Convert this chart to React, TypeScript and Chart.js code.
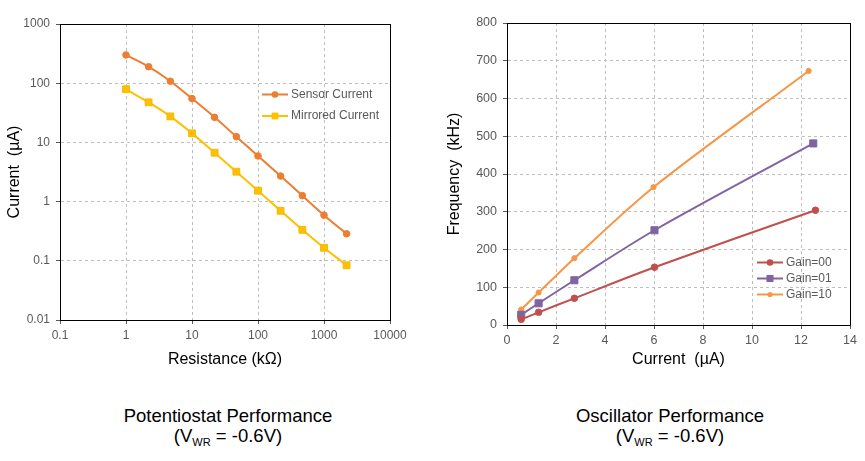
import React, { useEffect, useRef } from 'react';
import { Chart, registerables } from 'chart.js';

Chart.register(...registerables);

// ---------- Data: Potentiostat ----------
const resistance = [1, 2.2, 4.7, 10, 22, 47, 100, 220, 470, 1000, 2200];
const sensorCurrent = [300, 190, 108, 55, 26.5, 12.5, 5.9, 2.7, 1.26, 0.59, 0.286];
const mirroredCurrent = [79, 47.5, 27.5, 14.2, 6.7, 3.2, 1.53, 0.7, 0.334, 0.166, 0.084];
const leftXTickValues = [0.1, 1, 10, 100, 1000, 10000];
const leftXTickLabels = ['0.1', '1', '10', '100', '1000', '10000'];
const leftYTickValues = [0.01, 0.1, 1, 10, 100, 1000];
const leftYTickLabels = ['0.01', '0.1', '1', '10', '100', '1000'];

// ---------- Data: Oscillator ----------
const gain00X = [0.58, 1.29, 2.75, 6.02, 12.59];
const gain00Y = [15, 33.6, 70.7, 153, 304];
const gain01X = [0.58, 1.29, 2.75, 6.02, 12.5];
const gain01Y = [27, 57.5, 118.5, 251, 481];
const gain10X = [0.58, 1.29, 2.75, 5.98, 12.31];
const gain10Y = [41, 86, 177, 365, 673];
const rightXTickValues = [0, 2, 4, 6, 8, 10, 12, 14];
const rightXTickLabels = ['0', '2', '4', '6', '8', '10', '12', '14'];
const rightYTickValues = [0, 100, 200, 300, 400, 500, 600, 700, 800];
const rightYTickLabels = ['0', '100', '200', '300', '400', '500', '600', '700', '800'];

const FONT = "'Liberation Sans', Arial, sans-serif";

const framePlugin = {
  id: 'frame',
  afterDraw(chart: any) {
    const { ctx, chartArea: a } = chart;
    ctx.save();
    ctx.strokeStyle = '#000';
    ctx.lineWidth = 1;
    ctx.strokeRect(Math.round(a.left) + 0.5, Math.round(a.top) + 0.5, Math.round(a.right - a.left), Math.round(a.bottom - a.top));
    ctx.restore();
  },
};

const legendPlugin = {
  id: 'insideLegend',
  afterDraw(chart: any, _args: any, opts: any) {
    const { ctx } = chart;
    chart.data.datasets.forEach((ds: any, i: number) => {
      const y = opts.y + i * opts.spacing;
      const x0 = opts.x;
      const x1 = opts.x + opts.lineLen;
      ctx.save();
      ctx.strokeStyle = ds.borderColor;
      ctx.lineWidth = ds.borderWidth;
      ctx.beginPath();
      ctx.moveTo(x0, y);
      ctx.lineTo(x1, y);
      ctx.stroke();
      const cx = (x0 + x1) / 2;
      const r = ds.pointRadius;
      ctx.fillStyle = ds.pointBackgroundColor;
      if (ds.pointStyle === 'rect') {
        const s = Math.SQRT1_2 * r;
        ctx.fillRect(cx - s, y - s, 2 * s, 2 * s);
      } else {
        ctx.beginPath();
        ctx.arc(cx, y, r, 0, Math.PI * 2);
        ctx.fill();
      }
      ctx.fillStyle = '#595959';
      ctx.font = `12px ${FONT}`;
      ctx.textBaseline = 'middle';
      ctx.textAlign = 'left';
      ctx.fillText(ds.label, x1 + 3, y);
      ctx.restore();
    });
  },
};

function makeAxis(opts: {
  type: 'linear' | 'logarithmic';
  min: number;
  max: number;
  values: number[];
  labels: string[];
  horizontal: boolean;
  size: number;
  title: string;
  titlePadding: any;
  fontSize: number;
}) {
  return {
    type: opts.type,
    min: opts.min,
    max: opts.max,
    afterBuildTicks: (s: any) => {
      s.ticks = opts.values.map((v) => ({ value: v }));
    },
    afterFit: (s: any) => {
      if (opts.horizontal) s.height = opts.size;
      else s.width = opts.size;
      s.paddingLeft = 0;
      s.paddingRight = 0;
      s.paddingTop = 0;
      s.paddingBottom = 0;
    },
    ticks: {
      callback: (_v: any, i: number) => opts.labels[i],
      autoSkip: false,
      maxRotation: 0,
      minRotation: 0,
      padding: opts.horizontal ? 4 : 6,
      color: '#595959',
      font: { family: FONT, size: opts.fontSize },
    },
    grid: { color: '#BFBFBF', tickColor: '#595959', tickLength: 4, lineWidth: 1 },
    border: { color: '#000', width: 1, dash: [3, 3] },
    title: {
      display: true,
      text: opts.title,
      color: '#000',
      font: { family: FONT, size: 16 },
      padding: opts.titlePadding,
    },
  };
}

function LeftChart() {
  const ref = useRef<HTMLCanvasElement>(null);
  useEffect(() => {
    if (!ref.current) return;
    const chart = new Chart(ref.current, {
      type: 'line',
      data: {
        datasets: [
          {
            label: 'Sensor Current',
            data: resistance.map((x, i) => ({ x, y: sensorCurrent[i] })),
            borderColor: '#ED7D31',
            backgroundColor: '#ED7D31',
            borderWidth: 2,
            pointStyle: 'circle',
            pointRadius: 3.3,
            pointBackgroundColor: '#ED7D31',
            pointBorderColor: '#ED7D31',
            pointBorderWidth: 1,
            tension: 0.4,
          },
          {
            label: 'Mirrored Current',
            data: resistance.map((x, i) => ({ x, y: mirroredCurrent[i] })),
            borderColor: '#FFC000',
            backgroundColor: '#FFC000',
            borderWidth: 2,
            pointStyle: 'rect',
            pointRadius: 4.8,
            pointBackgroundColor: '#FFC000',
            pointBorderColor: '#F5B800',
            pointBorderWidth: 1,
            tension: 0.4,
          },
        ] as any,
      },
      options: {
        responsive: false,
        animation: false,
        layout: { padding: { left: 0, top: 24, right: 40, bottom: 10 } },
        plugins: {
          legend: { display: false },
          tooltip: { enabled: false },
          insideLegend: { x: 262, y: 94.5, spacing: 21.5, lineLen: 26 },
        } as any,
        scales: {
          x: makeAxis({
            type: 'logarithmic', min: 0.1, max: 10000, values: leftXTickValues, labels: leftXTickLabels,
            horizontal: true, size: 50, title: 'Resistance (kΩ)', titlePadding: { top: 0, bottom: 1 }, fontSize: 12,
          }),
          y: makeAxis({
            type: 'logarithmic', min: 0.01, max: 1000, values: leftYTickValues, labels: leftYTickLabels,
            horizontal: false, size: 60, title: 'Current  (µA)', titlePadding: { top: 5, bottom: 0 }, fontSize: 12,
          }),
        } as any,
      },
      plugins: [framePlugin, legendPlugin],
    });
    return () => chart.destroy();
  }, []);
  return <canvas ref={ref} width={430} height={380} style={{ position: 'absolute', left: 0, top: 0 }} />;
}

function RightChart() {
  const ref = useRef<HTMLCanvasElement>(null);
  useEffect(() => {
    if (!ref.current) return;
    const chart = new Chart(ref.current, {
      type: 'line',
      data: {
        datasets: [
          {
            label: 'Gain=00',
            data: gain00X.map((x, i) => ({ x, y: gain00Y[i] })),
            borderColor: '#C0504D',
            backgroundColor: '#C0504D',
            borderWidth: 2,
            pointStyle: 'circle',
            pointRadius: 3.3,
            pointBackgroundColor: '#C0504D',
            pointBorderColor: '#C0504D',
            pointBorderWidth: 1,
            tension: 0.3,
          },
          {
            label: 'Gain=01',
            data: gain01X.map((x, i) => ({ x, y: gain01Y[i] })),
            borderColor: '#8064A2',
            backgroundColor: '#8064A2',
            borderWidth: 2,
            pointStyle: 'rect',
            pointRadius: 5,
            pointBackgroundColor: '#8064A2',
            pointBorderColor: '#8064A2',
            pointBorderWidth: 1,
            tension: 0.3,
          },
          {
            label: 'Gain=10',
            data: gain10X.map((x, i) => ({ x, y: gain10Y[i] })),
            borderColor: '#F79646',
            backgroundColor: '#F79646',
            borderWidth: 2,
            pointStyle: 'circle',
            pointRadius: 2.6,
            pointBackgroundColor: '#F79646',
            pointBorderColor: '#F79646',
            pointBorderWidth: 1,
            tension: 0.3,
          },
        ] as any,
      },
      options: {
        responsive: false,
        animation: false,
        layout: { padding: { left: 0, top: 23, right: 15, bottom: 10 } },
        plugins: {
          legend: { display: false },
          tooltip: { enabled: false },
          insideLegend: { x: 327, y: 262.5, spacing: 16, lineLen: 26 },
        } as any,
        scales: {
          x: makeAxis({
            type: 'linear', min: 0, max: 14, values: rightXTickValues, labels: rightXTickLabels,
            horizontal: true, size: 45, title: 'Current  (µA)', titlePadding: { top: 0, bottom: 1 }, fontSize: 12.5,
          }),
          y: makeAxis({
            type: 'linear', min: 0, max: 800, values: rightYTickValues, labels: rightYTickLabels,
            horizontal: false, size: 77, title: 'Frequency  (kHz)', titlePadding: { top: 15, bottom: 0 }, fontSize: 12.5,
          }),
        } as any,
      },
      plugins: [framePlugin, legendPlugin],
    });
    return () => chart.destroy();
  }, []);
  return <canvas ref={ref} width={435} height={380} style={{ position: 'absolute', left: 430, top: 0 }} />;
}

function Caption({ center, title }: { center: number; title: string }) {
  return (
    <div
      style={{
        position: 'absolute',
        left: center - 150,
        top: 406,
        width: 300,
        textAlign: 'center',
        fontFamily: FONT,
        fontSize: 18.5,
        lineHeight: '20px',
        color: '#000',
        whiteSpace: 'nowrap',
      }}
    >
      {title}
      <br />
      (V<span style={{ fontSize: 11, position: 'relative', top: 4 }}>WR</span> = -0.6V)
    </div>
  );
}

export default function App() {
  return (
    <div style={{ position: 'fixed', left: 0, top: 0, width: 865, height: 461, background: '#fff', overflow: 'hidden' }}>
      <LeftChart />
      <RightChart />
      <Caption center={228} title="Potentiostat Performance" />
      <Caption center={670} title="Oscillator Performance" />
    </div>
  );
}
